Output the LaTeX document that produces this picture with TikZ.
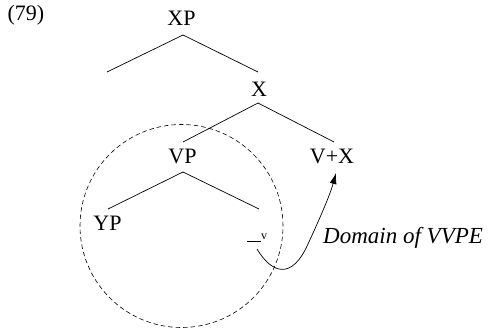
\documentclass[tikz,border=0pt]{standalone}
\usepackage{fontspec}
\setmainfont{Liberation Serif}
\usetikzlibrary{arrows.meta}
\begin{document}
\begin{tikzpicture}[x=1pt,y=-1pt,
  lab/.style={inner sep=0pt,font=\fontsize{22}{26}\selectfont},
  gloss/.style={inner sep=0pt,font=\fontsize{23}{27}\selectfont\itshape},
  branch/.style={line width=0.7pt},
  circlebound/.style={draw,circle,line width=0.6pt,dash pattern=on 4.5pt off 3pt},
  move/.style={line width=0.7pt,-{Latex[length=11pt,width=7pt]}}]
\useasboundingbox (0,0) rectangle (490,329);

% labels
\node[lab] (num) at (26,15) {(79)};
\node[lab] (xp) at (181.5,18.5) {XP};
\node[lab] (x) at (259,89.5) {X};
\node[lab] (vp) at (182.5,156) {VP};
\node[lab] (vx) at (332,156.5) {V+X};
\node[lab] (yp) at (107.5,223.5) {YP};
\node[lab,anchor=base west] (trace) at (247,241.5)
  {\rule[0pt]{14pt}{0.6pt}\raisebox{2pt}{\fontsize{12}{12}\selectfont v}};
\node[gloss,anchor=base west] (dom) at (323,243) {Domain of VVPE};

% branch points
\coordinate (xptop) at (183,35);
\coordinate (xpl) at (107,72);
\coordinate (xpr) at (258,72);
\coordinate (xtop) at (258,103);
\coordinate (xl) at (183,142);
\coordinate (xr) at (334,142);
\coordinate (vptop) at (183,172);
\coordinate (vpl) at (108,209);
\coordinate (vpr) at (259,209);

\draw[branch] (xpl) -- (xptop) -- (xpr);
\draw[branch] (xl) -- (xtop) -- (xr);
\draw[branch] (vpl) -- (vptop) -- (vpr);

% domain circle
\node[circlebound,minimum size=203pt,inner sep=0pt] (circ) at (181.5,226) {};

% head movement
\coordinate (mstart) at (257,249);
\coordinate (mend) at (336,173);
\draw[move] (mstart) .. controls (272,274) and (292,280) .. (308,244)
  .. controls (320,218) and (330,195) .. (mend);
\end{tikzpicture}
\end{document}
